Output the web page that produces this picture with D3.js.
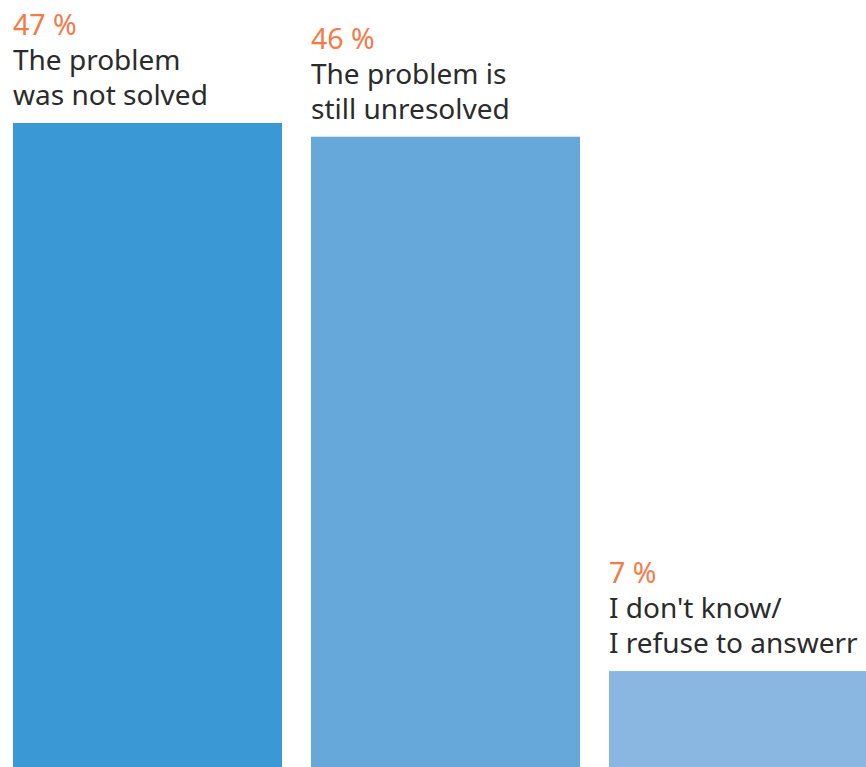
<!DOCTYPE html>
<html><head><meta charset="utf-8">
<script src="https://cdn.jsdelivr.net/npm/d3@7"></script>
<style>html,body{margin:0;padding:0;background:#fff;overflow:hidden}</style>
</head><body>
<svg id="c" width="866" height="767"></svg>
<script>
const categories = ["The problem|was not solved", "The problem is|still unresolved", "I don't know/|I refuse to answerr"];
const values = [47, 46, 7];
const percentLabels = ["47 %", "46 %", "7 %"];
const colors = ["#3a98d4", "#66a8d9", "#8ab7e2"];

const svg = d3.select("#c");
const x = d3.scaleBand().domain(d3.range(values.length)).range([13, 878]).paddingInner(29 / 298).paddingOuter(0);
const y = d3.scaleLinear().domain([0, 47]).range([767, 123]);

const g = svg.selectAll("g.bar").data(values).join("g").attr("class", "bar");
g.append("rect")
  .attr("x", (d, i) => x(i))
  .attr("y", d => y(d))
  .attr("width", x.bandwidth())
  .attr("height", d => y(0) - y(d))
  .attr("fill", (d, i) => colors[i]);

const font = "'Noto Sans', sans-serif";
g.append("text")
  .attr("x", (d, i) => x(i))
  .attr("y", d => y(d) - 88)
  .attr("font-family", font).attr("font-size", 28.5)
  .attr("fill", "#f47a48")
  .text((d, i) => percentLabels[i]);
g.each(function(d, i) {
  const lines = categories[i].split("|");
  d3.select(this).selectAll("text.cat").data(lines).join("text").attr("class", "cat")
    .attr("x", x(i))
    .attr("y", (l, j) => y(d) - 53 + j * 35)
    .attr("font-family", font).attr("font-size", 28)
    .attr("fill", "#2b2b2b")
    .text(l => l);
});
</script>
</body></html>
